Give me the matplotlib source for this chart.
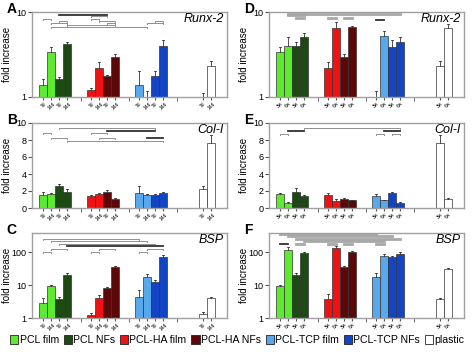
import numpy as np
import matplotlib
matplotlib.use('Agg')
import matplotlib.pyplot as plt
from matplotlib.patches import Patch
from matplotlib.ticker import NullFormatter, NullLocator
import matplotlib.transforms as mtransforms

plt.rcParams['font.family'] = ['Liberation Sans', 'DejaVu Sans']

# bar order inside each material: film t1, film t2, NFs t1, NFs t2
materials = ['PCL', 'PCL-HA', 'PCL-TCP']
legend_names = ['PCL film', 'PCL NFs', 'PCL-HA film', 'PCL-HA NFs',
                'PCL-TCP film', 'PCL-TCP NFs', 'plastic']
colors = ['#5eea2e', '#1c4a12', '#ee1212', '#5c0808', '#5aa8ec', '#1244c4', 'white']
days = ['7d', '14d']
weeks = ['3w', '6w']

# Runx-2
runx_d = [1.38, 3.36, 1.61, 4.17, 1.21, 2.21, 1.77, 2.93, 1.40, 1.0, 1.78, 3.95]
runx_d_err = [1.63, 3.87, 1.73, 4.47, 1.29, 2.56, 1.80, 3.18, 2.02, 1.19, 2.02, 4.68]
runx_d_pl = [1.0, 2.33]
runx_d_pl_err = [1.12, 2.65]
runx_w = [3.36, 4.0, 4.0, 5.1, 2.21, 6.43, 2.93, 6.7, 1.0, 5.26, 3.91, 4.48]
runx_w_err = [3.9, 5.1, 4.47, 5.7, 2.56, 7.6, 3.18, 6.9, 1.19, 6.0, 4.68, 5.1]
runx_w_pl = [2.33, 6.43]
runx_w_pl_err = [2.65, 7.2]

# Col-I
col_d = [1.5, 1.67, 2.56, 1.94, 1.47, 1.63, 1.94, 1.09, 1.78, 1.55, 1.55, 1.78]
col_d_err = [1.94, 1.74, 2.83, 2.25, 1.55, 1.74, 2.17, 1.2, 2.64, 1.67, 1.63, 1.9]
col_d_pl = [2.25, 7.67]
col_d_pl_err = [2.64, 8.57]
col_w = [1.63, 0.58, 1.94, 1.4, 1.55, 0.85, 1.09, 0.89, 1.47, 0.89, 1.78, 0.62]
col_w_err = [1.74, 0.7, 2.33, 1.55, 1.78, 1.09, 1.16, 0.97, 1.67, 1.0, 1.86, 0.7]
col_w_pl = [7.67, 1.09]
col_w_pl_err = [8.57, 1.2]

# BSP
bsp_d = [2.85, 9.5, 3.85, 20.6, 1.26, 3.94, 8.1, 36, 4.5, 18.3, 12.9, 70]
bsp_d_err = [4.2, 10, 4.5, 24, 1.42, 5.1, 8.7, 38, 7.2, 22, 14.5, 83]
bsp_d_pl = [1.35, 4.0]
bsp_d_pl_err = [1.48, 4.3]
bsp_w = [9.5, 118, 20.6, 93, 3.85, 132, 35, 105, 18.3, 77, 73, 89]
bsp_w_err = [10, 148, 24, 105, 5.3, 155, 38, 112, 23, 87, 79, 100]
bsp_w_pl = [3.85, 30.6]
bsp_w_pl_err = [4.2, 34]

# significance lines: (bar a, bar b, height as axes fraction, style)
# style: 'g' thin grey bracket, 'k' dark thick line, 'G' thick grey line
br_A = [(2, 6, 0.969, 'k'), (4, 6, 0.953, 'g'), (0, 1, 0.914, 'g'), (4, 5, 0.914, 'g'),
        (2, 3, 0.894, 'g'), (5, 7, 0.894, 'g'), (10, 11, 0.894, 'g'),
        (1, 3, 0.87, 'g'), (6, 7, 0.87, 'g'), (9, 11, 0.87, 'g'),
        (3, 7, 0.851, 'g'), (1, 9, 0.824, 'g')]
br_B = [(2, 10, 0.942, 'g'), (6, 10, 0.911, 'k'), (0, 1, 0.884, 'g'), (4, 6, 0.884, 'g'),
        (1, 3, 0.818, 'g'), (5, 7, 0.818, 'g'), (9, 11, 0.818, 'k'), (3, 11, 0.787, 'g')]
br_C = [(0, 8, 0.934, 'g'), (1, 9, 0.903, 'g'), (2, 10, 0.875, 'g'), (3, 11, 0.844, 'k'),
        (1, 3, 0.809, 'g'), (5, 7, 0.809, 'g'), (9, 11, 0.809, 'g'),
        (0, 1, 0.778, 'g'), (4, 5, 0.778, 'g'), (8, 9, 0.778, 'g')]
br_D = [(1, 11, 0.98, 'G'), (1, 3, 0.96, 'G'), (2, 3, 0.933, 'G'), (4, 5, 0.933, 'G'),
        (6, 7, 0.933, 'G'), (8, 9, 0.91, 'k')]
br_E = [(3, 11, 0.942, 'g'), (1, 3, 0.911, 'k'), (9, 11, 0.911, 'k'),
        (0, 1, 0.876, 'g'), (8, 9, 0.876, 'g'), (10, 11, 0.876, 'g')]
br_F = [(0, 8, 0.984, 'G'), (1, 10, 0.961, 'G'), (2, 11, 0.934, 'G'), (3, 9, 0.907, 'G'),
        (0, 1, 0.875, 'k'), (2, 3, 0.875, 'G'), (4, 5, 0.875, 'G'), (6, 7, 0.875, 'G'),
        (8, 9, 0.875, 'G')]

xpos = [1.4 + 6 * g + j for g in range(3) for j in range(4)]
xpl = [21.4, 22.4]
seps = [6.1, 12.1, 18.1]


def panel(ax, vals, errs, pl, pl_err, labels, gene, letter, log, brs):
    bottom = 1 if log else 0
    for i, (x, v, e) in enumerate(zip(xpos, vals, errs)):
        g, j = divmod(i, 4)
        c = colors[2 * g + (j // 2)]
        ax.bar(x, v - bottom, bottom=bottom, width=1.0, color=c, edgecolor='#333333', linewidth=0.5)
        ax.plot([x, x], [v, e], color='#333333', lw=0.6)
        ax.plot([x - 0.15, x + 0.15], [e, e], color='#333333', lw=0.6)
    for x, v, e in zip(xpl, pl, pl_err):
        ax.bar(x, v - bottom, bottom=bottom, width=1.0, color='white', edgecolor='#333333', linewidth=0.5)
        ax.plot([x, x], [v, e], color='#333333', lw=0.6)
        ax.plot([x - 0.15, x + 0.15], [e, e], color='#333333', lw=0.6)

    if log:
        ax.set_yscale('log')
        ax.yaxis.set_minor_locator(NullLocator())
        ax.yaxis.set_minor_formatter(NullFormatter())
    ax.set_xlim(0, 24.4)
    ax.set_xticks(xpos + xpl)
    ax.set_xticklabels(labels * 7, rotation=45, fontsize=3.5)
    ax.set_xticks(seps, minor=True)
    ax.tick_params(axis='x', which='major', length=2, pad=1, color='#555555')
    ax.tick_params(axis='x', which='minor', length=3, color='#555555')
    ax.tick_params(axis='y', which='major', labelsize=6.5, length=3, pad=1, color='#555555')
    for s in ax.spines.values():
        s.set_color('#a0a0a0')
        s.set_linewidth(1.0)
    ax.set_ylabel('fold increase', fontsize=7)
    ax.yaxis.set_label_coords(-0.105, 0.5)
    ax.text(0.985, 0.915, gene, transform=ax.transAxes, ha='right', va='center',
            fontsize=9, style='italic')
    ax.text(-0.13, 1.03, letter, transform=ax.transAxes, ha='left', va='center',
            fontsize=10, fontweight='bold')

    trans = mtransforms.blended_transform_factory(ax.transData, ax.transAxes)
    for a, b, y, st in brs:
        x1, x2 = xpos[a], xpos[b]
        if st == 'g':
            ax.plot([x1, x1, x2, x2], [y - 0.012, y, y, y - 0.012], color='#909090',
                    lw=0.7, transform=trans, clip_on=False)
        elif st == 'k':
            ax.plot([x1, x2], [y, y], color='#303030', lw=1.3, transform=trans, clip_on=False)
        else:
            ax.plot([x1, x2], [y, y], color='#a8a8a8', lw=2.0, transform=trans, clip_on=False)


fig = plt.figure(figsize=(4.74, 3.55), dpi=100)
lefts = [32 / 474, 269 / 474]
w = 195 / 474
rows = [(355 - 97) / 355, (355 - 208) / 355, (355 - 318) / 355]
h = 85 / 355

axA = fig.add_axes([lefts[0], rows[0], w, h])
panel(axA, runx_d, runx_d_err, runx_d_pl, runx_d_pl_err, days, 'Runx-2', 'A', True, br_A)
axA.set_ylim(1, 10)
axB = fig.add_axes([lefts[0], rows[1], w, h])
panel(axB, col_d, col_d_err, col_d_pl, col_d_pl_err, days, 'Col-I', 'B', False, br_B)
axB.set_ylim(0, 10)
axC = fig.add_axes([lefts[0], rows[2], w, h])
panel(axC, bsp_d, bsp_d_err, bsp_d_pl, bsp_d_pl_err, days, 'BSP', 'C', True, br_C)
axC.set_ylim(1, 390)
axD = fig.add_axes([lefts[1], rows[0], w, h])
panel(axD, runx_w, runx_w_err, runx_w_pl, runx_w_pl_err, weeks, 'Runx-2', 'D', True, br_D)
axD.set_ylim(1, 10)
axE = fig.add_axes([lefts[1], rows[1], w, h])
panel(axE, col_w, col_w_err, col_w_pl, col_w_pl_err, weeks, 'Col-I', 'E', False, br_E)
axE.set_ylim(0, 10)
axF = fig.add_axes([lefts[1], rows[2], w, h])
panel(axF, bsp_w, bsp_w_err, bsp_w_pl, bsp_w_pl_err, weeks, 'BSP', 'F', True, br_F)
axF.set_ylim(1, 390)

for ax in [axA, axD]:
    ax.set_yticks([1, 10])
    ax.set_yticklabels(['1', '10'])
for ax in [axC, axF]:
    ax.set_yticks([1, 10, 100])
    ax.set_yticklabels(['1', '10', '100'])
for ax in [axB, axE]:
    ax.set_yticks([0, 2, 4, 6, 8, 10])

handles = [Patch(facecolor=c, edgecolor='#222222', linewidth=0.6) for c in colors]
fig.legend(handles, legend_names, loc='center', bbox_to_anchor=(0.5, 15 / 355), ncol=7,
           frameon=False, fontsize=7.6, handlelength=0.8, handleheight=0.9,
           handletextpad=0.1, columnspacing=0.45, borderpad=0)

fig.savefig('out.png', dpi=100)
